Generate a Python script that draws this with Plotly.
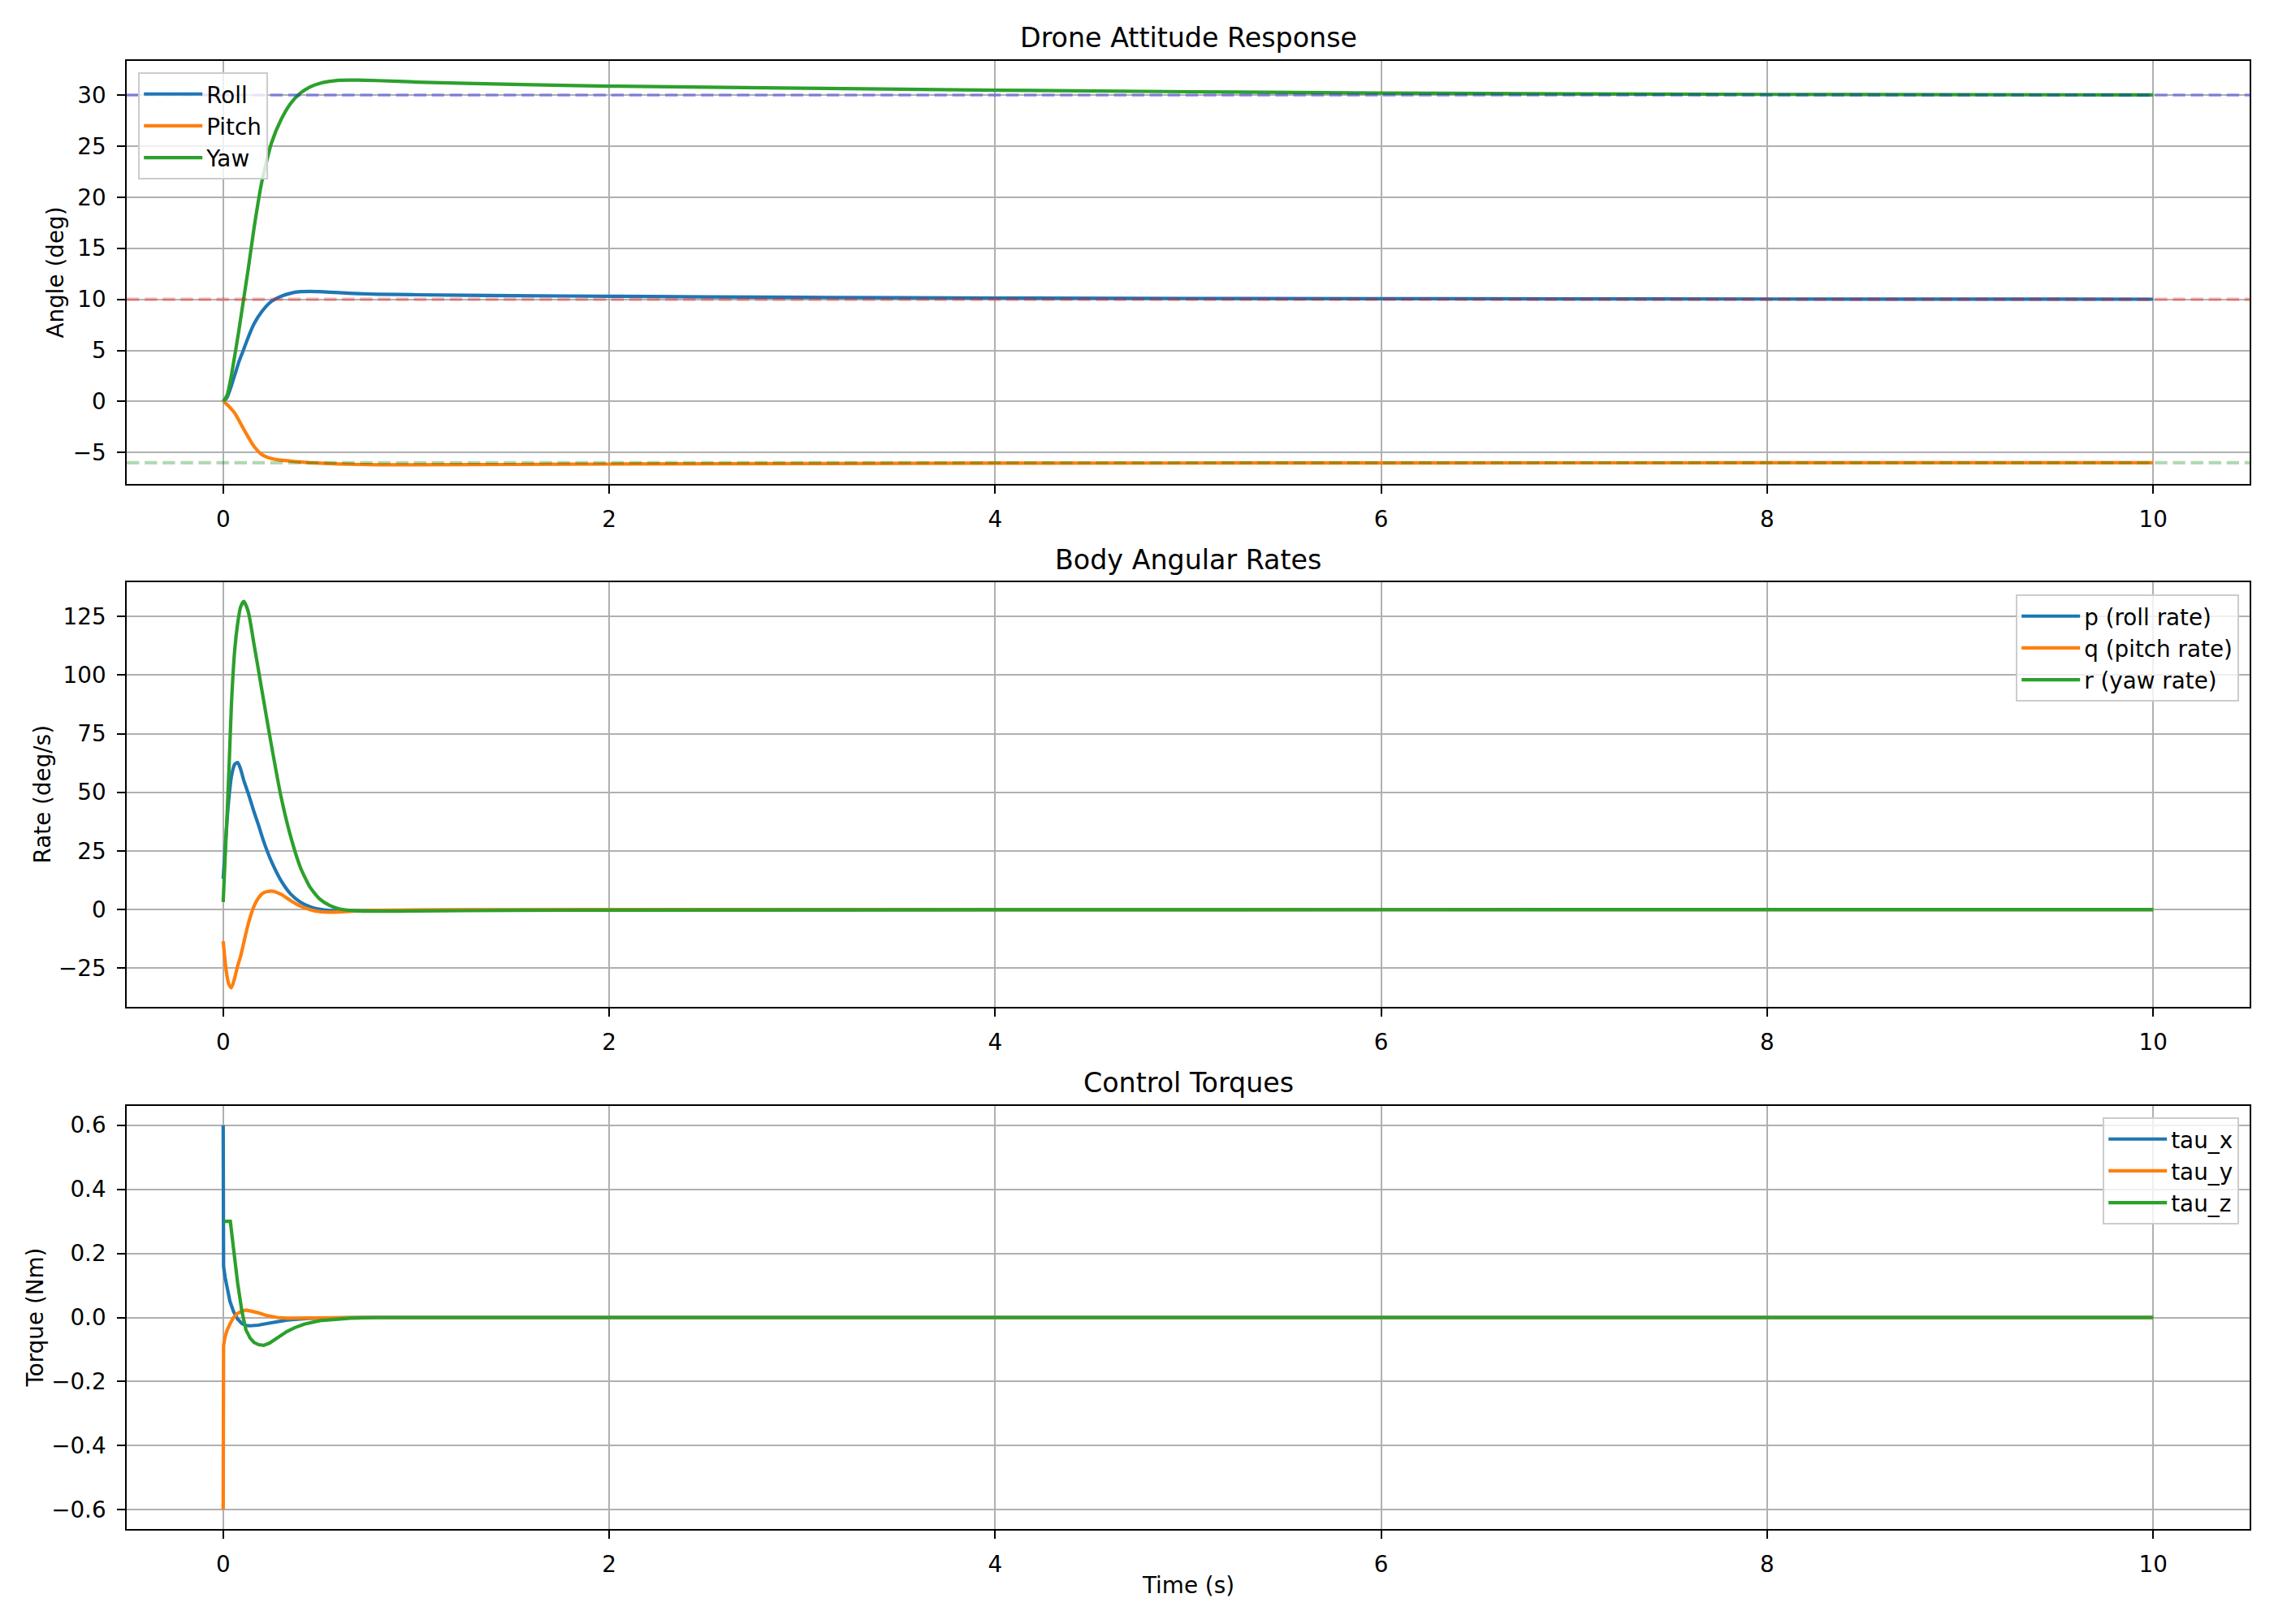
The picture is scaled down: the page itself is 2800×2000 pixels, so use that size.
import plotly.graph_objects as go

# ---------------- data ----------------
# Panel 1: attitude angles (deg)
t_att = [0, 0.02, 0.04, 0.06, 0.08, 0.1, 0.13, 0.16, 0.2, 0.25, 0.3, 0.35, 0.4, 0.45,
         0.5, 0.6, 0.7, 0.8, 1.0, 1.5, 2, 3, 4, 6, 8, 10]
roll = [0, 0.4, 1.4, 2.6, 3.8, 4.8, 6.3, 7.6, 8.8, 9.8, 10.3, 10.6, 10.75, 10.78,
        10.75, 10.65, 10.56, 10.5, 10.45, 10.36, 10.3, 10.2, 10.13, 10.06, 10.03, 10.01]
pitch = [0, -0.3, -0.7, -1.15, -1.8, -2.5, -3.5, -4.4, -5.2, -5.6, -5.75, -5.85, -5.93, -6.0,
         -6.05, -6.12, -6.17, -6.2, -6.2, -6.17, -6.13, -6.08, -6.05, -6.02, -6.01, -6.0]
yaw = [0, 0.6, 2.3, 4.5, 6.8, 9.3, 13.0, 17.0, 21.5, 25.3, 27.6, 29.2, 30.2, 30.8,
       31.15, 31.45, 31.47, 31.42, 31.28, 31.05, 30.88, 30.68, 30.48, 30.2, 30.07, 30.02]
targets = [10, -6, 30]                  # roll, pitch, yaw set-points
target_colors = ["rgba(255,0,0,0.3)", "rgba(0,128,0,0.3)", "rgba(0,0,255,0.3)"]

# Panel 2: body angular rates (deg/s)
t_rate = [0, 0.01, 0.02, 0.03, 0.043, 0.06, 0.075, 0.09, 0.107, 0.13, 0.16, 0.183, 0.21,
          0.25, 0.3, 0.35, 0.4, 0.45, 0.5, 0.55, 0.6, 0.7, 0.8, 1.0, 1.5, 2, 4, 6, 8, 10]
p_rate = [13.1, 26, 38, 48, 57, 62, 62.7, 60, 55, 49.5, 41.6, 36, 29,
          20.5, 12.3, 6.6, 3.2, 1.2, 0.1, -0.4, -0.5, -0.5, -0.4, -0.3, -0.2, -0.12, -0.04, -0.01, 0, 0]
q_rate = [-13.5, -22, -28.5, -32, -33.3, -29, -24, -20, -14, -6, 1.5, 5.0, 7.2,
          7.9, 6.5, 3.8, 1.5, 0.0, -0.9, -1.1, -1.0, -0.6, -0.35, -0.15, -0.05, 0, 0, 0, 0, 0]
r_rate = [3.2, 22, 40, 60, 88, 111, 122, 129, 131.4, 127, 113, 102, 89,
          70, 48, 31, 18, 9.5, 4.5, 1.8, 0.3, -0.6, -0.7, -0.6, -0.35, -0.25, -0.08, -0.03, -0.01, 0]

# Panel 3: control torques (Nm)
t_tx = [0, 0.002, 0.01, 0.02, 0.035, 0.054, 0.075, 0.097, 0.12, 0.14, 0.18, 0.226,
        0.28, 0.333, 0.44, 0.55, 0.7, 10]
tau_x = [0.6, 0.16, 0.125, 0.09, 0.05, 0.018, -0.005, -0.019, -0.025, -0.026, -0.024, -0.019,
         -0.013, -0.008, -0.003, -0.001, 0, 0]
tau_y = [-0.6, -0.087, -0.06, -0.04, -0.02, 0.0, 0.013, 0.02, 0.023, 0.021, 0.015, 0.006,
         0.0, -0.002, -0.001, 0, 0, 0]
t_tz = [0, 0.037, 0.054, 0.075, 0.097, 0.118, 0.14, 0.16, 0.185, 0.21, 0.24, 0.27, 0.3,
        0.33, 0.37, 0.42, 0.5, 0.58, 0.66, 0.8, 10]
tau_z = [0.3, 0.3, 0.213, 0.107, 0.019, -0.039, -0.065, -0.078, -0.085, -0.087, -0.08, -0.068, -0.056,
         -0.044, -0.032, -0.021, -0.01, -0.005, -0.002, 0, 0]

x_ticks = [0, 2, 4, 6, 8, 10]
panel_titles = ["Drone Attitude Response", "Body Angular Rates", "Control Torques"]
y_titles = ["Angle (deg)", "Rate (deg/s)", "Torque (Nm)"]
x_title = "Time (s)"

# ---------------- style ----------------
W, H = 2800, 2000
FONT = "DejaVu Sans"
FS = 27.8
TITLE_FS = 33.3
BLUE, ORANGE, GREEN = "#1f77b4", "#ff7f0e", "#2ca02c"
LW = 4.2
GRID = "#b0b0b0"

xdom = [156 / W, 2770 / W]
ydoms = [[1 - 596 / H, 1 - 75 / H], [1 - 1240 / H, 1 - 717 / H], [1 - 1883 / H, 1 - 1362 / H]]
yranges = [[-8.08, 33.35], [-41.5, 139.6], [-0.66, 0.66]]
ydticks = [5, 25, 0.2]

fig = go.Figure()

def add(x, y, name, color, k, legend, spline=True):
    line = dict(color=color, width=LW)
    if spline:
        line.update(shape="spline", smoothing=0.6)
    fig.add_trace(go.Scatter(x=x, y=y, name=name, mode="lines", line=line,
                             xaxis="x" if k == 1 else f"x{k}", yaxis="y" if k == 1 else f"y{k}",
                             legend=legend))

add(t_att, roll, "Roll", BLUE, 1, "legend")
add(t_att, pitch, "Pitch", ORANGE, 1, "legend")
add(t_att, yaw, "Yaw", GREEN, 1, "legend")
add(t_rate, p_rate, "p (roll rate)", BLUE, 2, "legend2")
add(t_rate, q_rate, "q (pitch rate)", ORANGE, 2, "legend2")
add(t_rate, r_rate, "r (yaw rate)", GREEN, 2, "legend2")
add(t_tx, tau_x, "tau_x", BLUE, 3, "legend3", spline=False)
add(t_tx, tau_y, "tau_y", ORANGE, 3, "legend3", spline=False)
add(t_tz, tau_z, "tau_z", GREEN, 3, "legend3", spline=False)

shapes = []
for val, col in zip(targets, target_colors):
    shapes.append(dict(type="line", xref="x domain", yref="y", x0=0, x1=1, y0=val, y1=val,
                       line=dict(color=col, width=LW, dash="15.4px,6.7px"), layer="above"))

layout = dict(width=W, height=H, margin=dict(l=0, r=0, t=0, b=0),
              paper_bgcolor="white", plot_bgcolor="white",
              font=dict(family=FONT, size=FS, color="black"),
              shapes=shapes, showlegend=True)

for i in range(3):
    k = "" if i == 0 else str(i + 1)
    layout[f"xaxis{k}"] = dict(domain=xdom, range=[-0.5, 10.5], tickvals=x_ticks,
                               anchor=f"y{k}", showline=True, mirror=True, linecolor="black",
                               linewidth=2.2, ticks="outside", ticklen=9.7, tickwidth=2.2,
                               tickcolor="black", showgrid=True, gridcolor=GRID, gridwidth=2.2,
                               zeroline=False, ticklabelstandoff=8,
                               tickfont=dict(family=FONT, size=FS, color="black"))
    layout[f"yaxis{k}"] = dict(domain=ydoms[i], range=yranges[i], dtick=ydticks[i], tick0=0,
                               anchor=f"x{k}", showline=True, mirror=True, linecolor="black",
                               linewidth=2.2, ticks="outside", ticklen=9.7, tickwidth=2.2,
                               tickcolor="black", showgrid=True, gridcolor=GRID, gridwidth=2.2,
                               zeroline=False, ticklabelstandoff=8,
                               tickformat=".1f" if i == 2 else None,
                               tickfont=dict(family=FONT, size=FS, color="black"))

legend_common = dict(bgcolor="rgba(255,255,255,0.8)", bordercolor="#cccccc", borderwidth=2.2,
                     itemwidth=72,
                     font=dict(family=FONT, size=FS, color="black"))
layout["legend"] = dict(x=170 / W, y=1 - 89 / H, xanchor="left", yanchor="top", **legend_common)
layout["legend2"] = dict(x=2757 / W, y=1 - 732 / H, xanchor="right", yanchor="top", **legend_common)
layout["legend3"] = dict(x=2757 / W, y=1 - 1376 / H, xanchor="right", yanchor="top", **legend_common)

anns = []
title_y = [47, 689, 1333]
ytitle_x = [68, 52, 43]
xc = (xdom[0] + xdom[1]) / 2
for i in range(3):
    anns.append(dict(text=panel_titles[i], x=xc, y=1 - title_y[i] / H, xref="paper", yref="paper",
                     xanchor="center", yanchor="middle", showarrow=False,
                     font=dict(family=FONT, size=TITLE_FS, color="black")))
    yc = (ydoms[i][0] + ydoms[i][1]) / 2
    anns.append(dict(text=y_titles[i], x=ytitle_x[i] / W, y=yc, xref="paper", yref="paper",
                     xanchor="center", yanchor="middle", textangle=-90, showarrow=False,
                     font=dict(family=FONT, size=FS, color="black")))
anns.append(dict(text=x_title, x=xc, y=1 - 1952 / H, xref="paper", yref="paper",
                 xanchor="center", yanchor="middle", showarrow=False,
                 font=dict(family=FONT, size=FS, color="black")))
layout["annotations"] = anns

fig.update_layout(**layout)
fig.write_html("out.html")
